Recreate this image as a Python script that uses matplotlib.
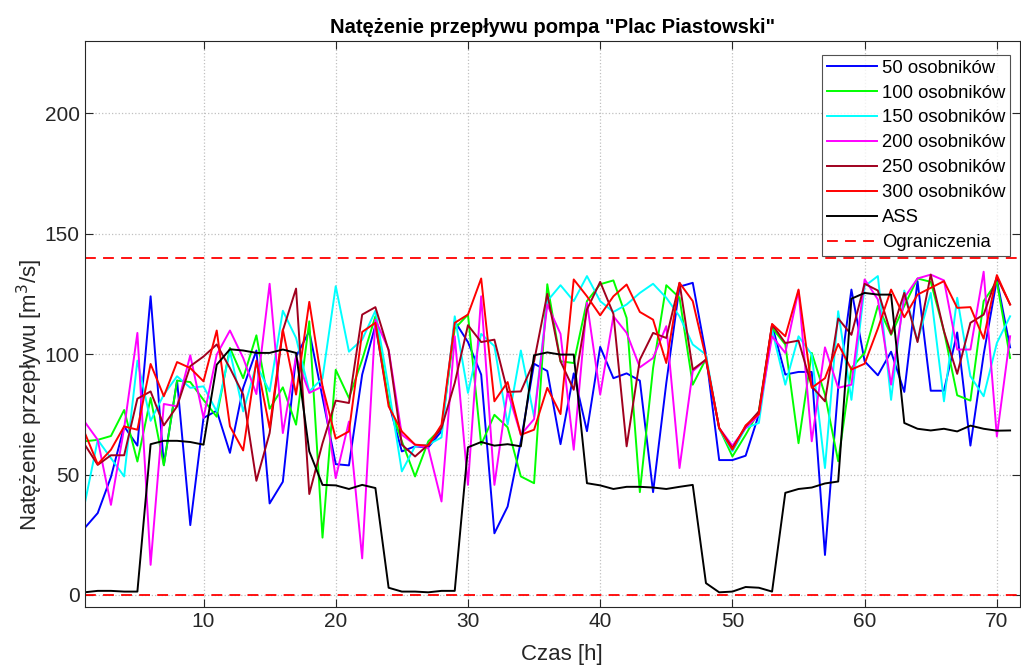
import numpy as np
import matplotlib
matplotlib.use("Agg")
import matplotlib.pyplot as plt

plt.rcParams['font.family'] = ['Liberation Sans', 'DejaVu Sans']

hours = list(range(1, 72))

s50 = [27.7, 34, 49, 70, 62, 124, 54, 89, 29, 73.5, 76.5, 59, 86, 101.5, 38, 47, 99, 109.5, 82, 54.3,
       53.8, 91.5, 112, 80, 59.6, 61.7, 61.3, 68, 113.6, 105, 91.5, 25.6, 36.7, 63.8, 96, 93, 62.6, 92, 68, 103,
       90, 92, 89, 42.7, 88, 128, 129.6, 99.8, 56, 56, 57.8, 75, 112, 91.5, 92.6, 92.6, 16.6, 86, 126.8, 97,
       91.2, 101, 84.3, 130.3, 84.8, 84.8, 109, 62, 99.8, 131, 102.8]
s100 = [63.8, 64.4, 66, 76.8, 55.4, 81.8, 53.8, 89, 88.4, 81, 74, 102.6, 90, 107.8, 77.3, 86.2, 70.7, 113.6, 23.8, 93.5,
        81.8, 97.7, 115.7, 80, 63.8, 49.2, 63.8, 69.3, 110.6, 116.4, 62.4, 74.8, 69.6, 49.2, 46.4, 129, 97, 96.3, 122, 129,
        130.6, 115, 42.7, 94.2, 128.6, 123.4, 87.3, 98, 69.3, 57.5, 66.5, 76.2, 110.9, 104, 63, 100.5, 83.2, 55.5, 94.2, 100.5,
        120, 108, 120, 131.4, 130, 109.5, 82.9, 80.7, 122, 130, 98.4]
s150 = [37.4, 64.4, 56.8, 49.2, 97.3, 72.3, 83.2, 90.8, 86, 86.6, 76.2, 101.2, 76.2, 95.6, 84.5, 118, 106.7, 84.5, 90, 128.2,
        101, 106, 118, 86, 51.3, 61.7, 62.4, 65.4, 115.7, 83.9, 108.4, 103.3, 70.7, 101.5, 74, 122, 128.6, 122, 132.4, 122,
        117.5, 120.6, 125.4, 129.2, 123.4, 115.7, 104, 99.8, 69, 59.6, 69.3, 71.4, 110, 87.3, 107.4, 99.8, 52.7, 117.8, 81, 128.2,
        132.4, 81, 126.4, 105.3, 125.4, 80.4, 123.4, 90.8, 82.5, 104.6, 115.7]
s200 = [72, 64.4, 37.4, 69.3, 108.8, 12.5, 79.3, 78.3, 99.5, 73.5, 99.8, 109.8, 98.4, 83.4, 129.2, 67.2, 99, 83.9, 86.6, 48.5,
        72, 15.2, 114.3, 101.9, 66.5, 62.4, 61, 38.8, 107.4, 45.7, 124, 45.7, 84.5, 66.5, 73, 120.6, 108.4, 60.3, 121.3, 83.2,
        115.7, 108.8, 94.5, 98.4, 111.6, 52.7, 92.9, 97.7, 69.3, 62, 69.3, 74.8, 107.4, 100.5, 126.4, 63.8, 102.8, 86, 87.3, 131,
        122.7, 87.3, 123.4, 131.4, 133, 130.6, 101.9, 101.9, 134.2, 65.8, 107.4]
s250 = [62.6, 54, 58, 58, 81.5, 84.5, 70.4, 78.3, 95, 99, 104, 94.2, 83.2, 47.4, 67.2, 109.8, 127.2, 41.9, 63, 80.7,
        79.7, 116.4, 119.5, 101.5, 62.4, 57.5, 62.4, 69.3, 88, 112, 105, 106, 84.3, 84.5, 97, 125, 97, 85.2, 118.5, 130,
        116.7, 61.7, 97.7, 108.8, 106.7, 129.6, 93.6, 97.7, 69.3, 61, 70, 76.2, 112.3, 104.6, 105.6, 86.6, 80.4, 114.8, 108, 129.2,
        126.4, 108.4, 125.4, 105, 133, 109.5, 91.8, 113, 116.4, 132, 120.6]
s300 = [67.6, 54.3, 60.3, 70, 68.6, 95.9, 82.5, 96.7, 94.2, 88.7, 109.8, 70, 60, 97.3, 69.3, 110.2, 83.2, 121.7, 86.6, 64.9,
        67.9, 109.2, 113, 78.3, 67.9, 62.4, 62, 70.7, 113, 116.4, 131.4, 80.4, 88.4, 66.5, 68.6, 86, 75.1, 131, 124, 116.1,
        124, 128.9, 117.5, 114.3, 96.3, 129.6, 122, 98.4, 69.3, 60.3, 70.4, 75.1, 112.5, 107.4, 126.8, 86, 90, 104.2, 93.6, 96,
        110.6, 126.8, 115.3, 124.7, 127.5, 130.3, 119.2, 119.5, 106.4, 132.8, 120.6]
ass = [1.1, 1.7, 1.7, 1.4, 1.4, 62.6, 64, 64, 63.5, 62.4, 95.6, 102, 101.5, 100.5, 100.5, 101.9, 100.5, 59.6, 45.7, 45.5,
       44, 45.7, 44.4, 3, 1.4, 1.4, 1.1, 1.7, 1.7, 61.3, 63.5, 62, 62.6, 61.7, 99.5, 100.7, 99.8, 99.8, 46.4, 45.5,
       44, 44.9, 44.9, 44.6, 44, 44.9, 45.7, 4.9, 1.1, 1.4, 3.3, 3, 1.4, 42.4, 44, 44.6, 46.3, 47.1, 123, 125.4,
       124.7, 124.7, 71.4, 69, 68.3, 69, 67.9, 70.3, 69, 68.2, 68.3]
limits = [0, 140]

labels = ['50 osobników', '100 osobników', '150 osobników', '200 osobników',
          '250 osobników', '300 osobników', 'ASS', 'Ograniczenia']
colors = ['#0000FF', '#00FF00', '#00FFFF', '#FF00FF', '#A0001E', '#FF0000', '#000000']

fig = plt.figure(figsize=(10.21, 6.69), dpi=100)
ax = fig.add_axes([84.5 / 1021, 1 - 607 / 669, 935.5 / 1021, 566 / 669])

for data, c, lab in zip([s50, s100, s150, s200, s250, s300, ass], colors, labels[:7]):
    ax.plot(hours, data, color=c, lw=1.4, label=lab)
for k, lim in enumerate(limits):
    ax.plot([hours[0], hours[-1] + 0.75], [lim, lim], color='#FF0000', lw=1.3,
            linestyle=(0, (6, 4)), label=labels[7] if k == 0 else None)

ax.set_xlim(1, 71.75)
ax.set_ylim(-5, 230)
ax.set_xticks([10, 20, 30, 40, 50, 60, 70])
ax.set_yticks([0, 50, 100, 150, 200])
ax.grid(True, color='#c0c0c0', linestyle=':', linewidth=0.9)
ax.tick_params(direction='in', top=True, right=True, labelsize=15, length=6, width=0.8,
               colors='#262626')
for sp in ax.spines.values():
    sp.set_linewidth(0.8)
    sp.set_color('#262626')

ax.set_title('Natężenie przepływu pompa "Plac Piastowski"', fontsize=14.5, fontweight='bold', pad=6)
ax.set_xlabel('Czas [h]', fontsize=16, color='#262626')
ax.set_ylabel('Natężenie przepływu [m$^3$/s]', fontsize=16, color='#262626')
ax.xaxis.set_label_coords(0.51, -0.065)
ax.yaxis.set_label_coords(-0.042, 0.375)

leg = ax.legend(loc='upper right', bbox_to_anchor=(0.9893, 0.9753), borderaxespad=0,
                fontsize=13.3, frameon=True, fancybox=False,
                edgecolor='#262626', handlelength=2.7, labelspacing=0.43,
                handletextpad=0.27, borderpad=0.25)
leg.get_frame().set_linewidth(0.8)
for t in leg.get_texts():
    t.set_color('#000000')

fig.savefig('out.png', dpi=100)
